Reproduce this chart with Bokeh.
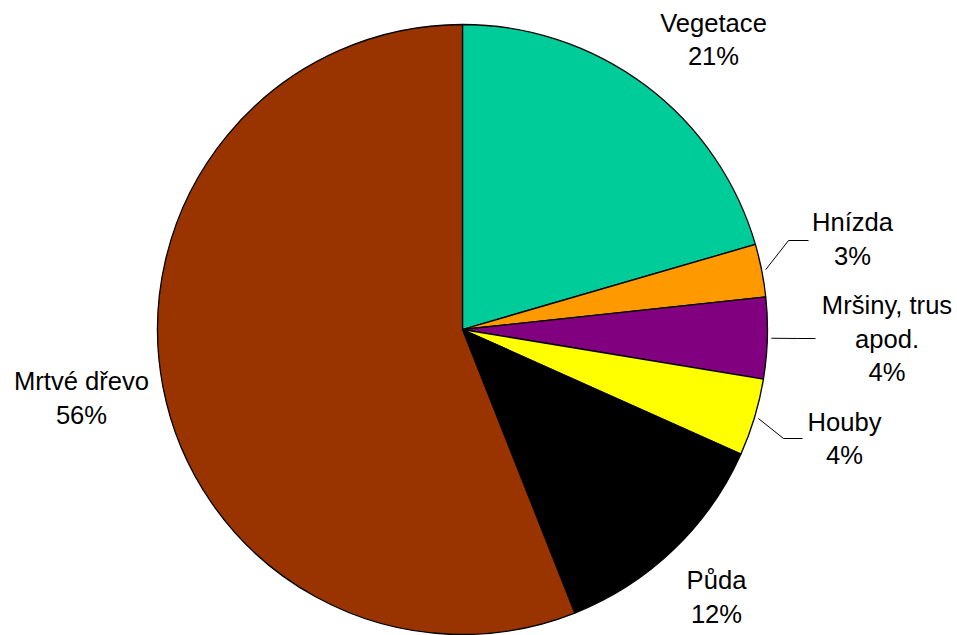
import math
from bokeh.plotting import figure
from bokeh.models import ColumnDataSource, Range1d
from bokeh.core.properties import value
from bokeh.embed import file_html
from bokeh.resources import INLINE

# ---- data ----
categories = ["Vegetace", "Hnízda", "Mršiny, trus apod.", "Houby", "Půda", "Mrtvé dřevo"]
shares = [20.5, 2.8, 4.3, 4.1, 12.3, 56.0]
pct_labels = ["21%", "3%", "4%", "4%", "12%", "56%"]
label_lines = [["Vegetace"], ["Hnízda"], ["Mršiny, trus", "apod."], ["Houby"], ["Půda"], ["Mrtvé dřevo"]]
colors = ["#00CC99", "#FF9900", "#800080", "#FFFF00", "#000000", "#993300"]

# ---- layout (pixel-like data space) ----
W, H = 957, 635
CX, CY, R = 462, 306, 305
TEXT_SHIFT = 10.5
# label anchor: (center x, first baseline y) in data coords
label_pos = [(713, 602.5), (852, 403), (886.5, 320), (844, 203.5), (716, 45), (81, 244)]
LINE_H = 33.7
# leader lines: elbow and end points for the small slices (None = no leader)
leaders = [None, ((788, 395), (808, 395)), ((797, 297), (815, 297)), ((783, 197), (802, 197)), None, None]

p = figure(width=W, height=H, output_backend="svg", toolbar_location=None,
           x_range=Range1d(0, W), y_range=Range1d(0, H), min_border=0)
p.axis.visible = False
p.grid.visible = False
p.outline_line_color = None
p.background_fill_color = "white"
p.border_fill_color = "white"

total = sum(shares)
starts, ends, mids = [], [], []
cum = 0.0
for s in shares:
    a0 = math.pi / 2 - 2 * math.pi * cum / total
    cum += s
    a1 = math.pi / 2 - 2 * math.pi * cum / total
    starts.append(a0)
    ends.append(a1)
    mids.append((a0 + a1) / 2)

src = ColumnDataSource(dict(start=starts, end=ends, color=colors, cat=categories))
p.wedge(x=CX, y=CY, radius=R, start_angle="start", end_angle="end", direction="clock",
        fill_color="color", line_color="black", line_width=1.3, source=src)

# leader lines
for i, ld in enumerate(leaders):
    if ld is None:
        continue
    sx = CX + (R + 4) * math.cos(mids[i])
    sy = CY + (R + 4) * math.sin(mids[i])
    (ex, ey), (fx, fy) = ld
    p.line([sx, ex, fx], [sy, ey, fy], line_color="black", line_width=1)

# labels
tx, ty, tt = [], [], []
for i, lines in enumerate(label_lines):
    x0, y0 = label_pos[i]
    allines = lines + [pct_labels[i]]
    for j, t in enumerate(allines):
        tx.append(x0)
        ty.append(y0 + TEXT_SHIFT - j * LINE_H)
        tt.append(t)
p.text(x=tx, y=ty, text=tt, text_align="center", text_baseline="alphabetic",
       text_font=value("Liberation Sans"), text_font_size="25.6px", text_color="black")

open("out.html", "w").write(file_html(p, INLINE))
